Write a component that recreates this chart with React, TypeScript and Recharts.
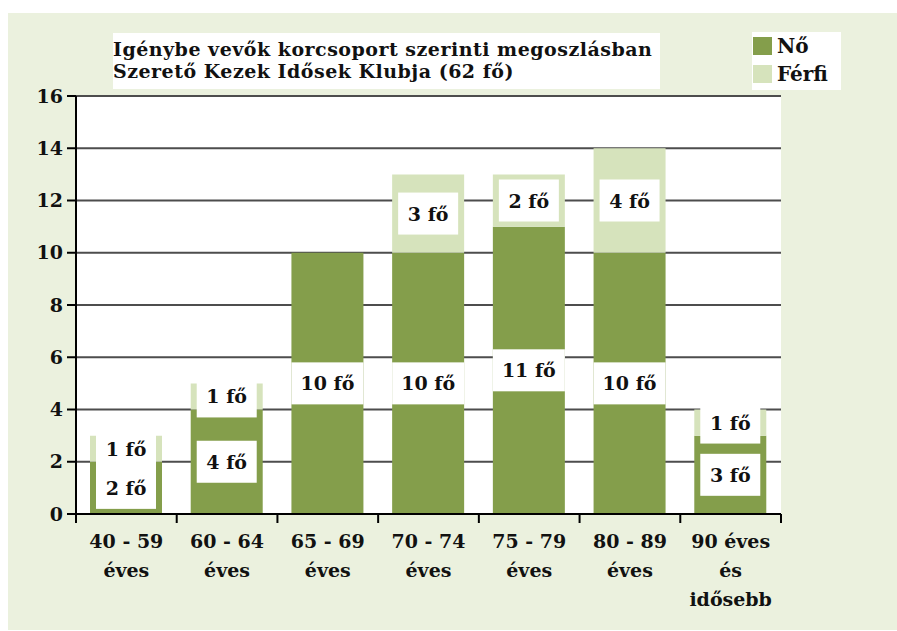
import React from "react";
import { BarChart, Bar, XAxis, YAxis, CartesianGrid, LabelList } from "recharts";

const categories = [
  "40 - 59 éves",
  "60 - 64 éves",
  "65 - 69 éves",
  "70 - 74 éves",
  "75 - 79 éves",
  "80 - 89 éves",
  "90 éves és idősebb",
];
const tickLines = [
  ["40 - 59", "éves"],
  ["60 - 64", "éves"],
  ["65 - 69", "éves"],
  ["70 - 74", "éves"],
  ["75 - 79", "éves"],
  ["80 - 89", "éves"],
  ["90 éves", "és", "idősebb"],
];
const noValues = [2, 4, 10, 10, 11, 10, 3];
const ferfiValues = [1, 1, 0, 3, 2, 4, 1];
const yTicks = [0, 2, 4, 6, 8, 10, 12, 14, 16];
const titleLines = [
  "Igénybe vevők korcsoport szerinti megoszlásban",
  "Szerető Kezek Idősek Klubja (62 fő)",
];
const legendItems = ["Nő", "Férfi"];

const FONT = "'DejaVu Serif', serif";
const DARK = "#849e4b";
const LIGHT = "#d6e3bc";
const legendColors = [DARK, LIGHT];

const data = categories.map((c, i) => ({ name: c, no: noValues[i], ferfi: ferfiValues[i] }));

function XTick(props: any) {
  const { x, y, payload, index } = props;
  const half = payload?.offset ?? 0;
  const lines = tickLines[index] || [];
  return (
    <g>
      <line x1={x + half} x2={x + half} y1={y} y2={y + 9} stroke="#000" strokeWidth={2} />
      {index === 0 && <line x1={x - half} x2={x - half} y1={y} y2={y + 9} stroke="#000" strokeWidth={2} />}
      {lines.map((l, k) => (
        <text key={k} x={x} y={y + 34 + k * 29} textAnchor="middle" fontFamily={FONT} fontWeight="bold" fontSize={19} fill="#111">
          {l}
        </text>
      ))}
    </g>
  );
}

function SegLabel(props: any) {
  const { x, y, width, height, value } = props;
  if (!value) return null;
  const cx = x + width / 2;
  const cy = y + height / 2;
  const w = String(value).length > 1 ? width : 60;
  return (
    <g>
      <rect x={cx - w / 2} y={cy - 21} width={w} height={42} fill="#fff" />
      <text x={cx} y={cy} textAnchor="middle" dominantBaseline="central" fontFamily={FONT} fontWeight="bold" fontSize={19} fill="#111">
        {`${value} fő`}
      </text>
    </g>
  );
}

export default function App() {
  return (
    <div style={{ position: "fixed", left: 8, top: 13, width: 889, height: 617, background: "#ebf1de" }}>
      <div
        style={{
          position: "absolute",
          left: 105,
          top: 20,
          width: 547,
          height: 56,
          background: "#fff",
          zIndex: 2,
          fontFamily: FONT,
          fontWeight: "bold",
          fontSize: 19,
          letterSpacing: "0.5px",
          lineHeight: "22px",
          color: "#111",
          paddingTop: 5,
          boxSizing: "border-box",
        }}
      >
        {titleLines.map((t) => (
          <div key={t} style={{ whiteSpace: "nowrap" }}>{t}</div>
        ))}
      </div>
      <div style={{ position: "absolute", left: 744, top: 19, width: 89, height: 58, background: "#fff", zIndex: 2 }}>
        {legendItems.map((label, i) => (
          <div key={label} style={{ position: "absolute", left: 1, top: 5 + i * 28, display: "flex", alignItems: "center" }}>
            <div style={{ width: 19, height: 18, background: legendColors[i] }} />
            <span style={{ marginLeft: 5, fontFamily: FONT, fontWeight: "bold", fontSize: 20, lineHeight: "18px", color: "#111" }}>{label}</span>
          </div>
        ))}
      </div>
      <BarChart width={889} height={617} data={data} margin={{ top: 83, right: 116, left: 0, bottom: 0 }} barSize={72}>
        <CartesianGrid vertical={false} fill="#fff" stroke="#4d4d4d" strokeWidth={2} />
        <XAxis
          dataKey="name"
          height={116}
          interval={0}
          tickLine={false}
          tickSize={0}
          tickMargin={0}
          axisLine={{ stroke: "#000", strokeWidth: 2 }}
          tick={<XTick />}
        />
        <YAxis
          width={68}
          domain={[0, 16]}
          ticks={yTicks}
          interval={0}
          tickSize={9}
          tickMargin={4}
          axisLine={{ stroke: "#000", strokeWidth: 2 }}
          tickLine={{ stroke: "#000", strokeWidth: 2 }}
          tick={{ fontFamily: FONT, fontWeight: "bold", fontSize: 19, fill: "#111" }}
        />
        <Bar dataKey="no" name="Nő" stackId="a" fill={DARK} isAnimationActive={false}>
          <LabelList dataKey="no" content={<SegLabel />} />
        </Bar>
        <Bar dataKey="ferfi" name="Férfi" stackId="a" fill={LIGHT} isAnimationActive={false}>
          <LabelList dataKey="ferfi" content={<SegLabel />} />
        </Bar>
      </BarChart>
    </div>
  );
}
